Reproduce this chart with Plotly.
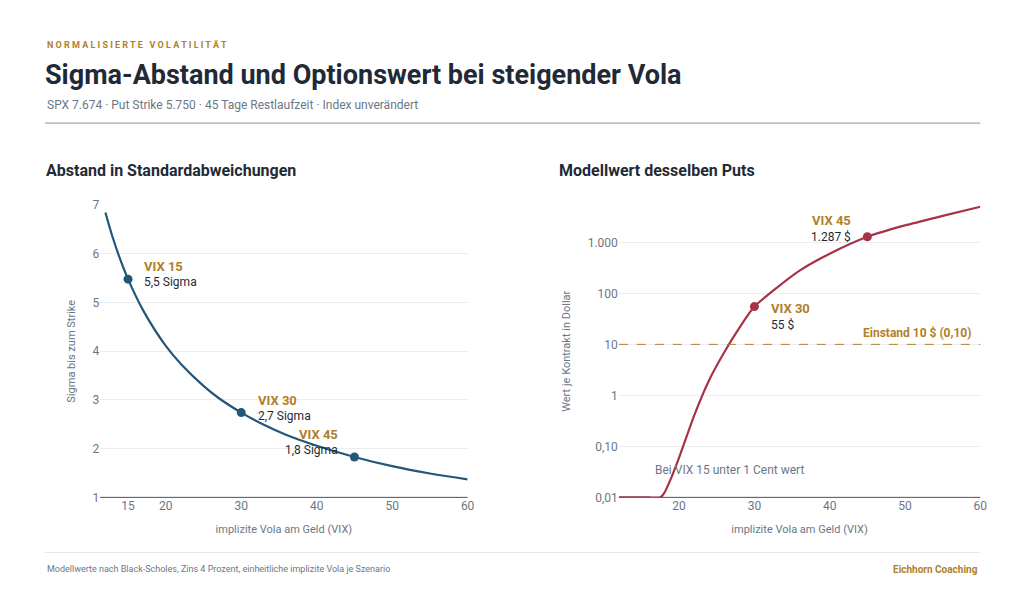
import plotly.graph_objects as go

vix_sigma = [12, 13, 14, 15, 17, 20, 22, 25, 27, 30, 33, 36, 40, 45, 50, 55, 60]
sigma_vals = [6.85, 6.32, 5.87, 5.48, 4.84, 4.11, 3.74, 3.29, 3.04, 2.74, 2.49, 2.28, 2.06, 1.83, 1.64, 1.49, 1.37]
vix_put = [12, 14, 16, 17.5, 18, 19, 20, 22, 24, 26, 28, 30, 33, 36, 40, 45, 50, 55, 60]
put_vals = [0.01, 0.01, 0.01, 0.01, 0.012, 0.025, 0.06, 0.4, 2, 7, 21, 55, 130, 280, 600, 1287, 2150, 3300, 5000]
pts_sigma_x = [15, 30, 45]; pts_sigma_y = [5.48, 2.74, 1.83]
pts_put_x = [30, 45]; pts_put_y = [55, 1287]
left_ticks = [15, 20, 30, 40, 50, 60]
right_ticks = [20, 30, 40, 50, 60]
log_ticks = [0.01, 0.1, 1, 10, 100, 1000]
log_labels = ["0,01", "0,10", "1", "10", "100", "1.000"]

NAVY = "#1f2a36"; GOLD = "#b0802a"; BLUE = "#22577a"; RED = "#a83246"; GREY = "#6b7785"
F = "Roboto"; FC = "Roboto"

def PX(x):  # target pixel -> paper fraction (compensates page offset/scale)
    return (x - 8) / 0.9918 / 1024
def PY(y):
    return 1 - (y - 15) / 0.976 / 602

xl0, xl1, xr0, xr1 = PX(100), PX(467), PX(618), PX(979)
yb, yt = PY(497), PY(205)

fig = go.Figure()
fig.add_trace(go.Scatter(x=vix_sigma, y=sigma_vals, mode="lines", line=dict(color=BLUE, width=2.2, shape="spline"), xaxis="x", yaxis="y", hoverinfo="skip"))
fig.add_trace(go.Scatter(x=pts_sigma_x, y=pts_sigma_y, mode="markers", marker=dict(color=BLUE, size=9), xaxis="x", yaxis="y"))
fig.add_trace(go.Scatter(x=vix_put, y=put_vals, mode="lines", line=dict(color=RED, width=2.2, shape="spline", smoothing=0.6), xaxis="x2", yaxis="y2"))
fig.add_trace(go.Scatter(x=pts_put_x, y=pts_put_y, mode="markers", marker=dict(color=RED, size=9), xaxis="x2", yaxis="y2"))

ax = dict(showgrid=False, zeroline=False, ticks="", tickfont=dict(family=F, size=12, color=GREY),
          title=dict(text="implizite Vola am Geld (VIX)", font=dict(family=F, size=11, color=GREY), standoff=12))
fig.update_layout(
    width=1024, height=602, margin=dict(l=0, r=0, t=0, b=0), paper_bgcolor="white", plot_bgcolor="white",
    showlegend=False, separators=",.",
    xaxis=dict(domain=[xl0, xl1], range=[11.3, 60], tickvals=left_ticks, anchor="y", **ax),
    yaxis=dict(domain=[yb, yt], range=[1, 7], dtick=1, showgrid=True, gridcolor="#ebedf0", zeroline=False,
               showline=False, ticks="", tickfont=dict(family=F, size=12, color=GREY), anchor="x",
               title=dict(text="Sigma bis zum Strike", font=dict(family=F, size=11, color=GREY), standoff=14)),
    xaxis2=dict(domain=[xr0, xr1], range=[12, 60], tickvals=right_ticks, anchor="y2", **ax),
    yaxis2=dict(domain=[yb, yt], type="log", range=[-2, 3.73], tickvals=log_ticks, ticktext=log_labels,
                showgrid=True, gridcolor="#ebedf0", zeroline=False, ticks="", anchor="x2",
                tickfont=dict(family=F, size=12, color=GREY),
                title=dict(text="Wert je Kontrakt in Dollar", font=dict(family=F, size=11, color=GREY), standoff=14)),
)
shapes = [
    dict(type="line", xref="paper", yref="paper", x0=PX(45), x1=PX(979), y0=PY(123), y1=PY(123), line=dict(color="#8a8f96", width=1)),
    dict(type="line", xref="paper", yref="paper", x0=PX(45), x1=PX(979), y0=PY(552), y1=PY(552), line=dict(color="#e3e5e8", width=1)),
    dict(type="line", xref="paper", yref="paper", x0=xl0, x1=xl1, y0=yb, y1=yb, line=dict(color="#4a525c", width=1)),
    dict(type="line", xref="paper", yref="paper", x0=xr0, x1=xr1, y0=yb, y1=yb, line=dict(color="#4a525c", width=1)),
    dict(type="line", xref="x2 domain", yref="y2", x0=0, x1=1, y0=10, y1=10, line=dict(color=GOLD, width=1, dash="dash")),
]
fig.update_layout(shapes=shapes)

def pa(x, y, t, size, color, fam=F, bold=False, xa="left", ya="middle"):
    txt = f"<b>{t}</b>" if bold else t
    return dict(xref="paper", yref="paper", x=PX(x), y=PY(y), text=txt, showarrow=False, xanchor=xa, yanchor=ya,
                font=dict(family=fam, size=size, color=color))

anns = [
    pa(45, 45, "N O R M A L I S I E R T E   V O L A T I L I T Ä T", 9, GOLD, bold=True),
    pa(43, 75, "Sigma-Abstand und Optionswert bei steigender Vola", 27, NAVY, fam=FC, bold=True),
    pa(45, 105, "SPX 7.674 · Put Strike 5.750 · 45 Tage Restlaufzeit · Index unverändert", 12, GREY),
    pa(44, 170, "Abstand in Standardabweichungen", 16, NAVY, fam=FC, bold=True),
    pa(556, 170, "Modellwert desselben Puts", 16, NAVY, fam=FC, bold=True),
    pa(45, 569, "Modellwerte nach Black-Scholes, Zins 4 Prozent, einheitliche implizite Vola je Szenario", 9, GREY),
    pa(979, 569, "Eichhorn Coaching", 10, GOLD, bold=True, xa="right"),
    pa(142, 266, "VIX 15", 13, GOLD, bold=True), pa(142, 282, "5,5 Sigma", 12, NAVY),
    pa(256, 400, "VIX 30", 13, GOLD, bold=True), pa(256, 416, "2,7 Sigma", 12, NAVY),
    pa(340, 434, "VIX 45", 13, GOLD, bold=True, xa="right"), pa(340, 450, "1,8 Sigma", 12, NAVY, xa="right"),
    pa(852, 220, "VIX 45", 13, GOLD, bold=True, xa="right"), pa(852, 237, "1.287 $", 12, NAVY, xa="right"),
    pa(768, 308, "VIX 30", 13, GOLD, bold=True), pa(768, 325, "55 $", 12, NAVY),
    pa(972, 333, "Einstand 10 $ (0,10)", 12, GOLD, bold=True, xa="right"),
    pa(652, 470, "Bei VIX 15 unter 1 Cent wert", 12, GREY),
]
fig.update_layout(annotations=anns)
fig.write_html("out.html")
